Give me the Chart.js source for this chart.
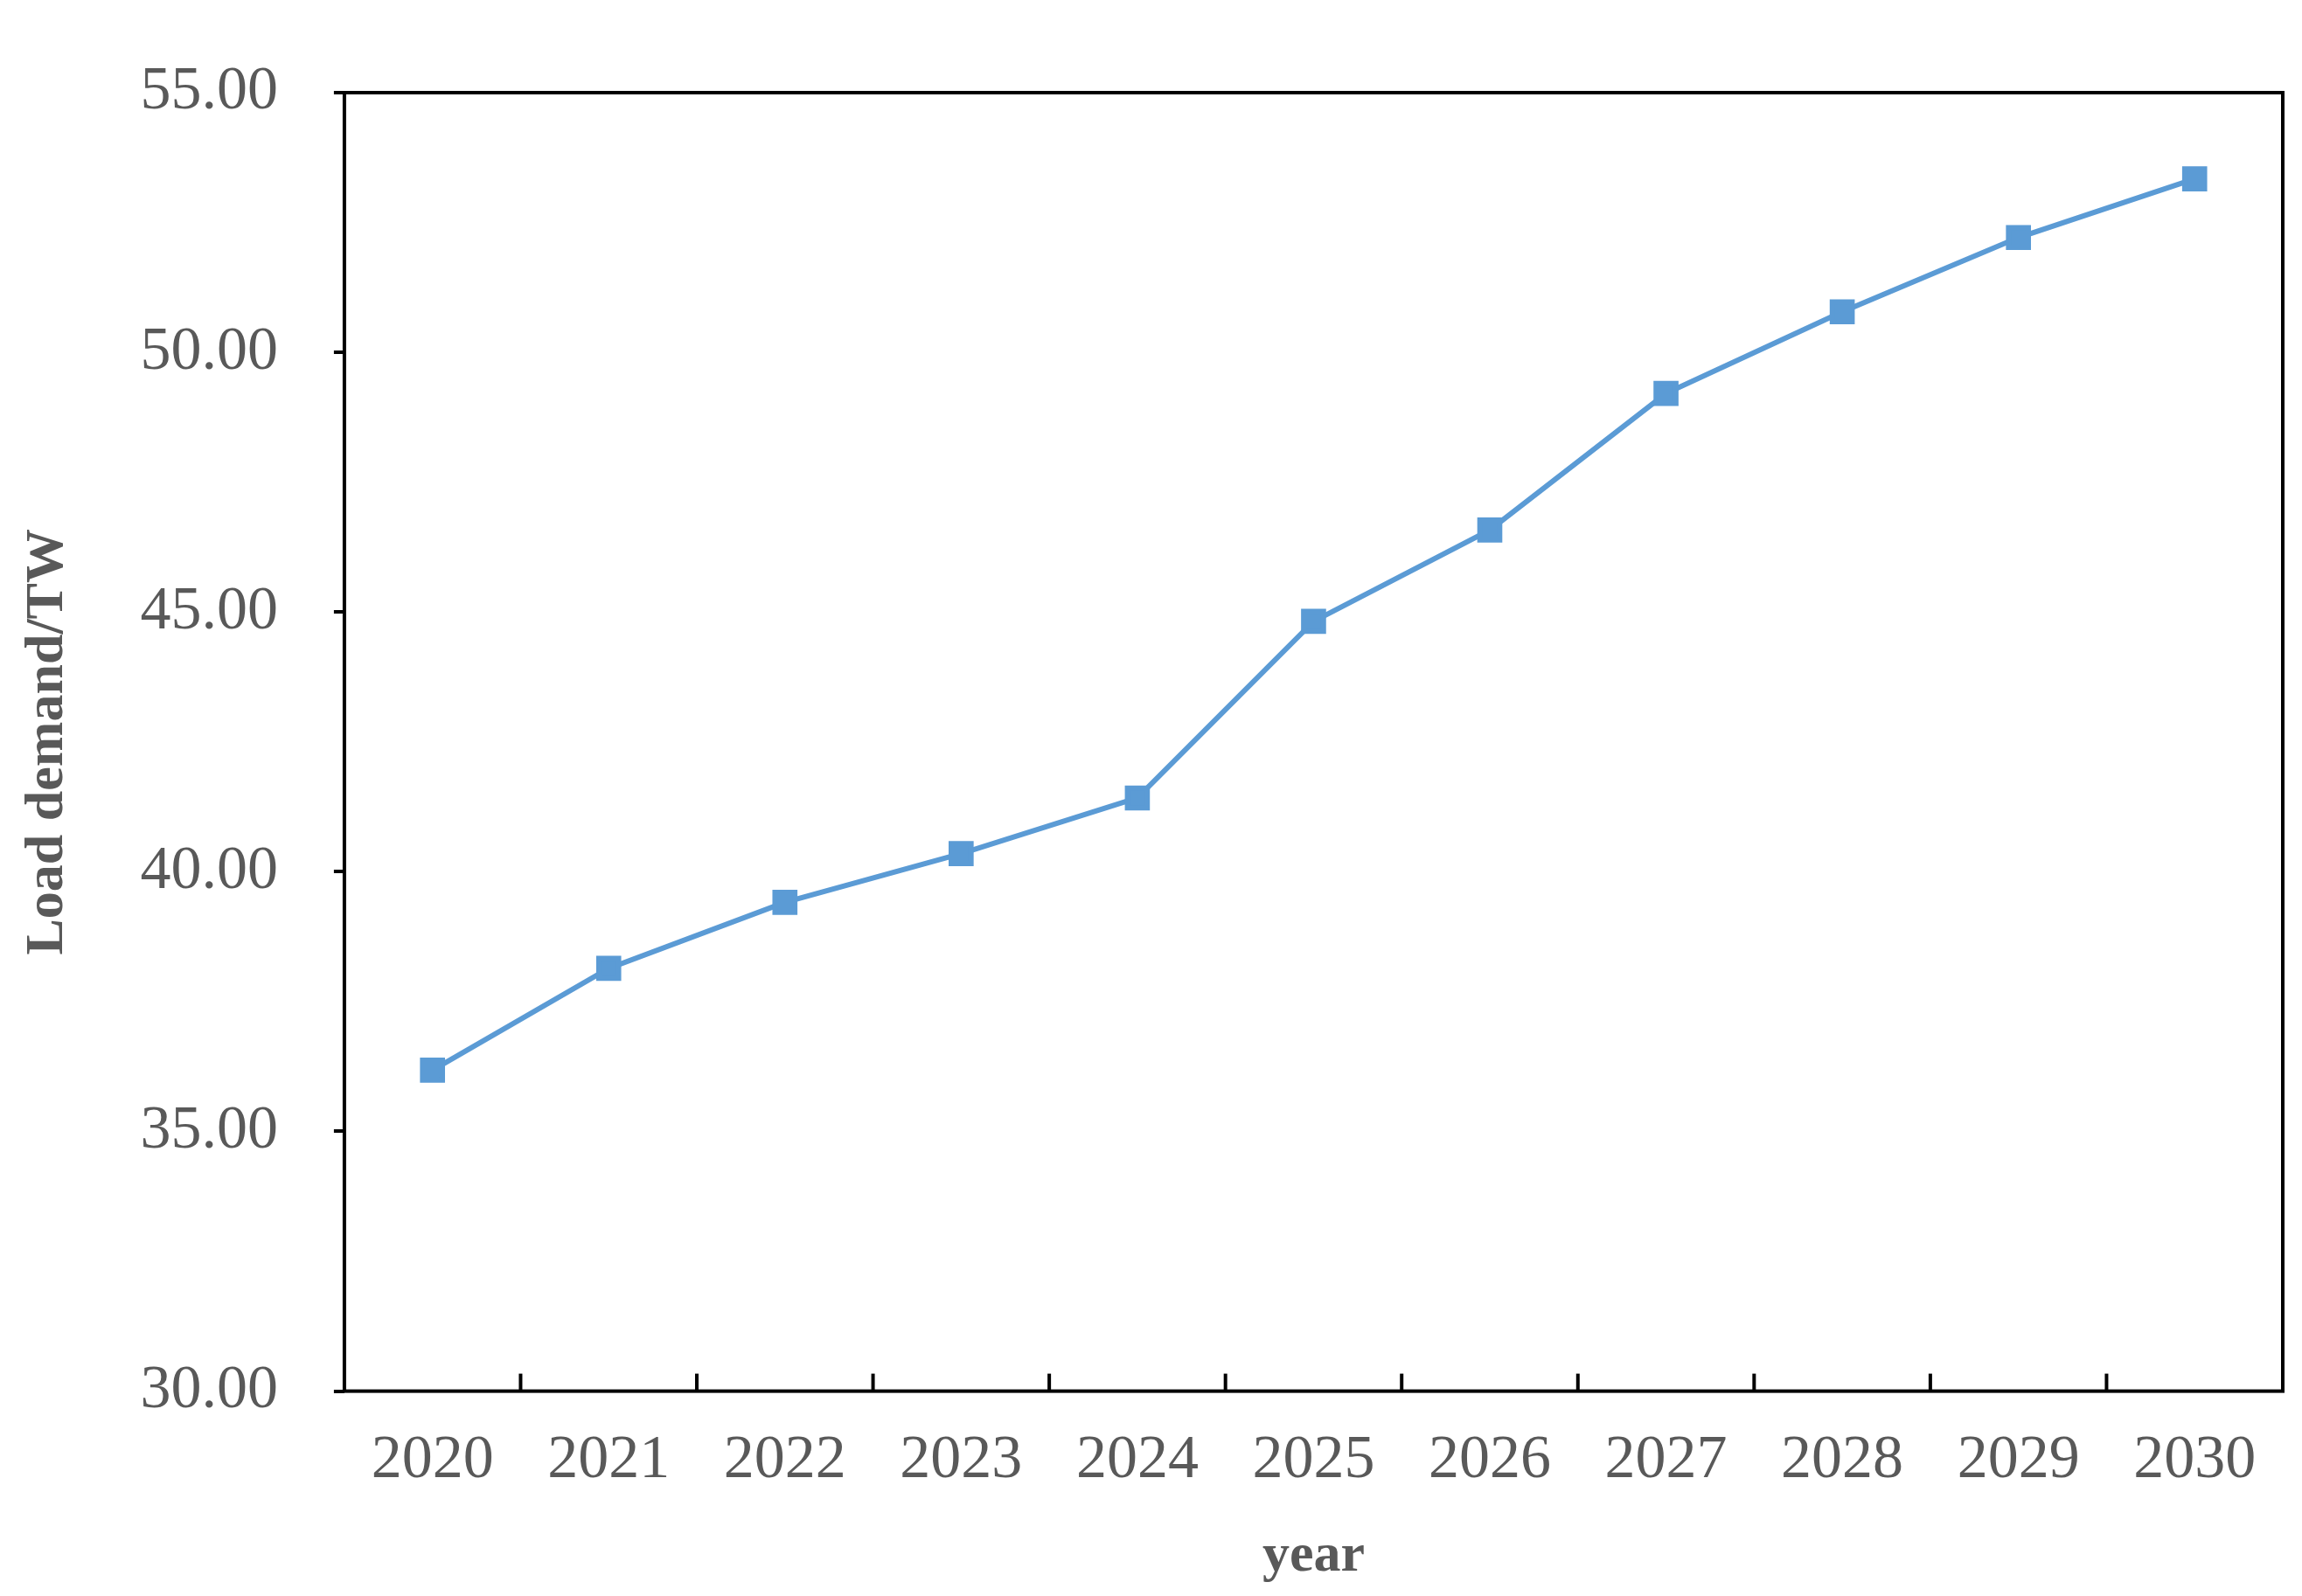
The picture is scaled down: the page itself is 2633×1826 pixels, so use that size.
<!DOCTYPE html>
<html>
<head>
<meta charset="utf-8">
<script src="https://cdn.jsdelivr.net/npm/chart.js@4/dist/chart.umd.min.js"></script>
<style>
  html, body { margin: 0; padding: 0; background: #fff; }
  #wrap { width: 2633px; height: 1826px; }
</style>
</head>
<body>
<div id="wrap"><canvas id="chart"></canvas></div>
<script>
// Data
const years = ['2020', '2021', '2022', '2023', '2024', '2025', '2026', '2027', '2028', '2029', '2030'];
const loadDemand = [36.18, 38.14, 39.41, 40.35, 41.42, 44.82, 46.58, 49.21, 50.78, 52.21, 53.34];
const yMin = 30;
const yMax = 55;
const yStep = 5;

const FONT = '"Liberation Serif", "Times New Roman", serif';
const LINE_COLOR = '#5b9bd5';

// frame + inward x ticks at category boundaries
const framePlugin = {
    id: 'frame',
    afterDraw(chart) {
        const { ctx, chartArea: a, scales } = chart;
        ctx.save();
        ctx.strokeStyle = '#000';
        ctx.lineWidth = 4;
        ctx.strokeRect(a.left, a.top, a.right - a.left, a.bottom - a.top);
        const x = scales.x;
        for (let i = 1; i < years.length; i++) {
            const px = (x.getPixelForValue(i - 1) + x.getPixelForValue(i)) / 2;
            ctx.beginPath();
            ctx.moveTo(px, a.bottom);
            ctx.lineTo(px, a.bottom - 20);
            ctx.stroke();
        }
        ctx.restore();
    }
};

new Chart(document.getElementById('chart').getContext('2d'), {
    type: 'line',
    data: {
        labels: years,
        datasets: [{
            data: loadDemand,
            borderColor: LINE_COLOR,
            backgroundColor: LINE_COLOR,
            borderWidth: 6,
            pointStyle: 'rect',
            pointRadius: 16,
            pointHoverRadius: 16,
            tension: 0
        }]
    },
    options: {
        responsive: true,
        maintainAspectRatio: false,
        animation: false,
        layout: { padding: { top: 62, right: 14, bottom: 4, left: 14 } },
        plugins: {
            legend: { display: false },
            tooltip: { enabled: false }
        },
        scales: {
            x: {
                offset: true,
                grid: { display: false },
                border: { display: false },
                ticks: { color: '#595959', font: { family: FONT, size: 70 }, padding: 30, maxRotation: 0 },
                title: { display: true, text: 'year', color: '#595959', font: { family: FONT, size: 62, weight: 'bold' }, padding: { top: 0 } }
            },
            y: {
                min: yMin,
                max: yMax,
                grid: { display: true, drawOnChartArea: false, color: '#000', lineWidth: 4, tickLength: 12 },
                border: { display: false },
                ticks: {
                    stepSize: yStep,
                    color: '#595959',
                    padding: 64,
                    font: { family: FONT, size: 70 },
                    callback: v => v.toFixed(2)
                },
                title: { display: true, text: 'Load demand/TW', color: '#595959', font: { family: FONT, size: 62, weight: 'bold' }, padding: { bottom: 4 } }
            }
        }
    },
    plugins: [framePlugin]
});
</script>
</body>
</html>
